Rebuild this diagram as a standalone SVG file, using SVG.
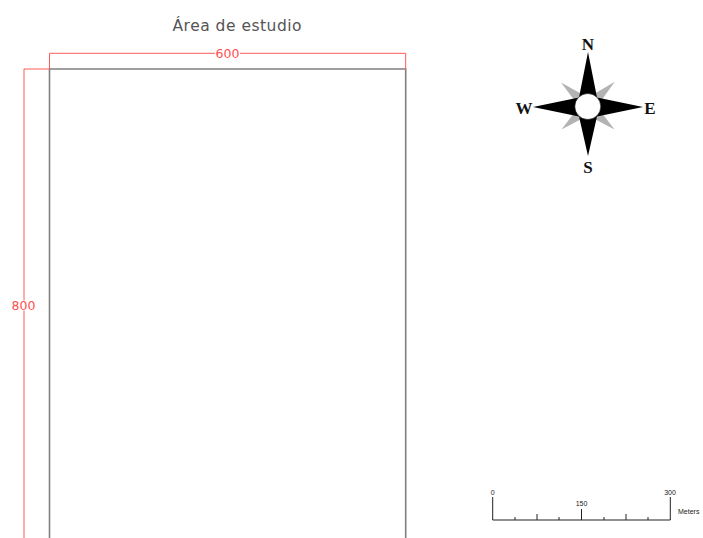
<svg xmlns="http://www.w3.org/2000/svg" width="703" height="538" viewBox="0 0 703 538">
<style>
.dim{stroke:#ff5a5a;stroke-width:1;fill:none}
.dimt{fill:#ff5050;font-family:"DejaVu Sans","Liberation Sans",sans-serif;font-size:12.5px}
.frame{stroke:#808080;stroke-width:1.6;fill:none}
.cmp{font-family:"Liberation Serif",serif;font-weight:bold;font-size:17px;fill:#111}
.sb{stroke:#222;stroke-width:1;fill:none}
.sbt{font-family:"Liberation Sans",sans-serif;font-size:7px;fill:#222}
</style>
<rect width="703" height="538" fill="#fff"/>
<g id="title">
<text x="237" y="31" text-anchor="middle" font-family="DejaVu Sans, sans-serif" font-size="15.5" fill="#555" textLength="129" lengthAdjust="spacing">Área de estudio</text>
</g>
<g id="area">
<path class="frame" d="M49.5,540 V69 H405.7 V540"/>
</g>
<g id="connectors">
<g id="dim-600">
<path class="dim" d="M49.5,69 V53.3 H215 M240,53.3 H405.7 V69"/>
<text class="dimt" x="227.5" y="58" text-anchor="middle">600</text>
</g>
<g id="dim-800">
<path class="dim" d="M49.5,69 H24 V300.5 M24,310.5 V540"/>
<text class="dimt" x="23.5" y="310" text-anchor="middle">800</text>
</g>
</g>
<g id="compass">
<polygon fill="#b3b3b3" points="561,82.5 588,97.5 614.8,81.7 597,106.5 614.5,129.5 588,115.5 561.5,129.5 579,106.5"/>
<polygon fill="#000" points="588,52 597,97.5 643,107 597,116.5 588,156 579,116.5 533,107 579,97.5"/>
<circle cx="587.8" cy="106.5" r="13" fill="#fff" stroke="#000" stroke-width="0.6"/>
<text class="cmp" x="588" y="49.5" text-anchor="middle">N</text>
<text class="cmp" x="588" y="172.5" text-anchor="middle">S</text>
<text class="cmp" x="524" y="113.5" text-anchor="middle">W</text>
<text class="cmp" x="650" y="113.5" text-anchor="middle">E</text>
</g>
<g id="scalebar">
<path class="sb" d="M492.7,497 V520 H670.3 V497 M581.5,509 V520 M537,514 V520 M626,514 V520 M515,517 V520 M559,517 V520 M604,517 V520 M648,517 V520"/>
<text class="sbt" x="492.7" y="494.5" text-anchor="middle">0</text>
<text class="sbt" x="581.5" y="505.5" text-anchor="middle">150</text>
<text class="sbt" x="670" y="494.5" text-anchor="middle">300</text>
<text class="sbt" x="678" y="513.5">Meters</text>
</g>
</svg>
